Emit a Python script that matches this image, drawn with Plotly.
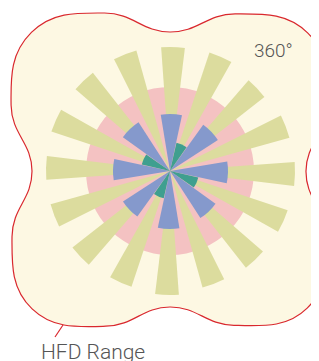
import math
import plotly.graph_objects as go

# ---- data ----
directions16 = [0, 22.5, 45, 67.5, 90, 112.5, 135, 157.5,
                180, 202.5, 225, 247.5, 270, 292.5, 315, 337.5]
outer_r = [124, 125, 120, 124, 125, 124, 123, 121,
           124, 122, 124, 124, 124, 125, 125, 125]          # yellow-green bars
range_r = [84]                                              # pink disk
directions8 = [0, 45, 90, 135, 180, 225, 270, 315]
mid_r = [57, 57, 58, 56, 58, 56, 57, 58]                    # blue bars
directions4 = [22.5, 112.5, 202.5, 292.5]
inner_r = [29, 29, 28, 29]                                  # teal bars
# HFD Range outline radius by direction
hfd_r = [139, 170, 195, 170, 136, 168, 194, 167,
         136, 168, 195, 171, 138, 172, 196, 171]

PAGE_W, PAGE_H = 319, 361
OFF = 8                     # default body margin of the html page
W, H = PAGE_W - OFF, PAGE_H - OFF
CX, CY = 170, 171           # centre of the rose in page px
R = 130
ROT = 1.4                   # slight clockwise rotation of the rose

fig = go.Figure()

# background outline (cartesian, 1 unit = 1 px, origin at centre)
xs = [r * math.sin(math.radians(a)) for a, r in zip(directions16, hfd_r)]
ys = [r * math.cos(math.radians(a)) for a, r in zip(directions16, hfd_r)]
xs.append(xs[0]); ys.append(ys[0])
fig.add_trace(go.Scatter(x=xs, y=ys, mode="lines", fill="toself",
                         fillcolor="#FDF8E3",
                         line=dict(color="#D9282E", width=1.2, shape="spline", smoothing=1.3),
                         hoverinfo="skip", showlegend=False))

fig.add_trace(go.Barpolar(r=range_r, theta=[0], width=[360],
                          marker=dict(color="#F4C2C2", line=dict(width=0)),
                          showlegend=False))
fig.add_trace(go.Barpolar(r=outer_r, theta=directions16, width=[11] * 16,
                          marker=dict(color="#DCDC9E", line=dict(width=0)),
                          showlegend=False))
fig.add_trace(go.Barpolar(r=mid_r, theta=directions8, width=[21.5] * 8,
                          marker=dict(color="#8599CC", line=dict(width=0)),
                          showlegend=False))
fig.add_trace(go.Barpolar(r=inner_r, theta=directions4, width=[22] * 4,
                          marker=dict(color="#3F9F8F", line=dict(width=0)),
                          showlegend=False))

cx_f = CX - OFF                 # centre in figure px (from left)
cy_f = PAGE_H - CY              # centre in figure px (from bottom)
fig.update_layout(
    width=W, height=H,
    margin=dict(l=0, r=0, t=0, b=0),
    paper_bgcolor="white", plot_bgcolor="white",
    showlegend=False,
    xaxis=dict(range=[-cx_f, W - cx_f], visible=False, fixedrange=True),
    yaxis=dict(range=[-cy_f, H - cy_f], visible=False, fixedrange=True),
    polar=dict(
        domain=dict(x=[(cx_f - R) / W, (cx_f + R) / W],
                    y=[(cy_f - R) / H, (cy_f + R) / H]),
        bgcolor="rgba(0,0,0,0)",
        barmode="overlay",
        radialaxis=dict(range=[0, R], visible=False, showgrid=False),
        angularaxis=dict(visible=False, showgrid=False, rotation=90 - ROT,
                         direction="clockwise"),
    ),
    font=dict(family="Roboto", color="#555555"),
)

fig.add_annotation(x=273 - CX, y=CY - 50, xref="x", yref="y", text="360°",
                   showarrow=False, font=dict(size=19, color="#555555", family="Roboto", weight=300))
fig.add_annotation(x=39 - CX, y=CY - 352, xref="x", yref="y", text="HFD Range",
                   showarrow=False, xanchor="left",
                   font=dict(size=21, color="#555555", family="Roboto", weight=300))
fig.add_shape(type="line", xref="x", yref="y",
              x0=63 - CX, y0=CY - 325, x1=55 - CX, y1=CY - 337,
              line=dict(color="#D9282E", width=1.2))

fig.write_html("out.html")
